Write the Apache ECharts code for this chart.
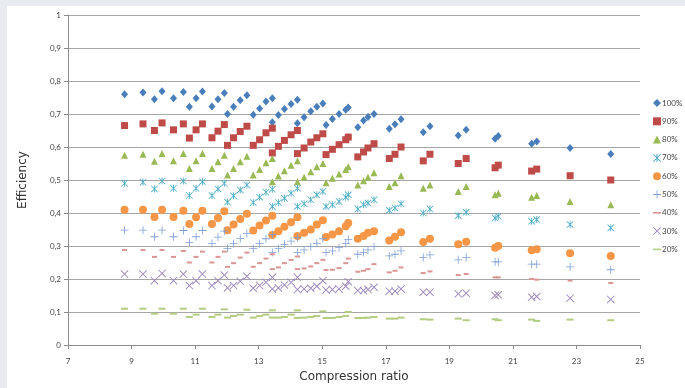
<!DOCTYPE html>
<html>
<head>
<meta charset="utf-8">
<script src="https://cdn.jsdelivr.net/npm/echarts@6/dist/echarts.min.js"></script>
<style>
  html, body { margin: 0; padding: 0; background: #e8ecf0; }
  #chart { position: absolute; left: 7px; top: 6px; width: 678px; height: 382px; background: #fff; }
</style>
</head>
<body>
<div id="chart"></div>
<script>
// compression ratio, shared by all load levels
var ratio = [8.78, 9.36, 9.72, 9.96, 10.32, 10.63, 10.82, 11.03, 11.23, 11.53, 11.72, 11.92,
  12.02, 12.21, 12.42, 12.63, 12.83, 13.03, 13.23, 13.43, 13.43, 13.62, 13.81, 14.02, 14.22,
  14.22, 14.43, 14.64, 14.83, 15.02, 15.12, 15.32, 15.53, 15.74, 15.82, 16.12, 16.30, 16.44, 16.63,
  17.11, 17.29, 17.48, 18.18, 18.39, 19.28, 19.53, 20.44, 20.54, 21.59, 21.75, 22.80, 24.08];

var eff100 = [.760, .765, .745, .769, .748, .767, .722, .748, .768, .723, .745, .764,
  .700, .722, .742, .757, .698, .717, .738, .748, .675, .697, .715, .730, .743,
  .672, .690, .708, .722, .732, .667, .685, .700, .713, .720, .660, .680, .691, .700,
  .655, .669, .684, .645, .663, .635, .652, .625, .633, .610, .617, .597, .579];
var eff90 = [.665, .670, .650, .673, .652, .670, .627, .652, .670, .628, .648, .668,
  .605, .628, .647, .663, .605, .622, .643, .657, .582, .602, .620, .637, .650,
  .580, .597, .615, .628, .640, .577, .593, .607, .622, .630, .570, .585, .597, .610,
  .565, .578, .600, .558, .578, .550, .565, .537, .545, .527, .533, .513, .500];
var eff80 = [.575, .578, .557, .580, .558, .580, .535, .558, .580, .535, .555, .575,
  .515, .535, .555, .572, .515, .532, .552, .565, .495, .512, .528, .545, .558,
  .495, .508, .525, .540, .550, .492, .505, .518, .532, .540, .485, .498, .508, .522,
  .480, .492, .513, .475, .485, .465, .480, .455, .460, .448, .453, .435, .425];
var eff70 = [.490, .493, .473, .497, .475, .497, .453, .475, .495, .453, .473, .490,
  .433, .452, .470, .485, .432, .448, .463, .472, .420, .432, .445, .460, .475,
  .420, .428, .440, .455, .465, .420, .425, .435, .448, .455, .412, .425, .430, .440,
  .408, .415, .428, .400, .412, .392, .402, .385, .390, .375, .380, .365, .355];
var eff60 = [.410, .410, .388, .410, .388, .407, .367, .387, .407, .367, .385, .405,
  .348, .365, .382, .398, .347, .362, .377, .392, .333, .345, .358, .372, .387,
  .330, .340, .350, .365, .378, .327, .335, .345, .360, .370, .322, .330, .340, .345,
  .317, .328, .342, .312, .322, .305, .313, .295, .300, .287, .290, .278, .270];
var eff50 = [.348, .348, .328, .348, .328, .347, .310, .328, .347, .308, .327, .345,
  .293, .307, .323, .338, .292, .307, .322, .335, .280, .292, .305, .315, .325,
  .280, .288, .298, .308, .322, .280, .285, .295, .308, .320, .275, .280, .288, .298,
  .270, .275, .285, .265, .273, .258, .265, .252, .252, .245, .245, .237, .228];
var eff40 = [.288, .288, .267, .288, .267, .285, .250, .267, .283, .250, .267, .283,
  .237, .248, .265, .280, .237, .248, .262, .275, .230, .235, .248, .258, .268,
  .230, .232, .238, .248, .258, .227, .228, .233, .248, .262, .222, .225, .230, .245,
  .220, .225, .235, .218, .223, .212, .215, .205, .205, .200, .198, .195, .188];
var eff30 = [.215, .215, .195, .217, .195, .215, .180, .195, .215, .180, .195, .212,
  .173, .180, .193, .208, .172, .180, .190, .205, .170, .173, .182, .190, .205,
  .168, .170, .172, .178, .195, .167, .168, .170, .178, .192, .165, .165, .168, .175,
  .163, .163, .170, .160, .160, .155, .157, .150, .152, .145, .147, .142, .138];
var eff20 = [.110, .110, .095, .110, .095, .110, .085, .092, .110, .085, .092, .108,
  .083, .088, .092, .107, .083, .088, .092, .105, .083, .083, .085, .092, .105,
  .082, .083, .085, .088, .102, .082, .082, .085, .088, .100, .082, .082, .083, .085,
  .080, .080, .083, .078, .077, .080, .075, .078, .075, .077, .073, .077, .075];

var loads = ['100%', '90%', '80%', '70%', '60%', '50%', '40%', '30%', '20%'];
var values = [eff100, eff90, eff80, eff70, eff60, eff50, eff40, eff30, eff20];

var STAR = 'path://M4.4,0H5.6V10H4.4Z M0,0.8L0.8,0L10,9.2L9.2,10Z M9.2,0L10,0.8L0.8,10L0,9.2Z';
var CROSS = 'path://M0,0.8L0.8,0L10,9.2L9.2,10Z M9.2,0L10,0.8L0.8,10L0,9.2Z';
var PLUS = 'path://M4.5,0H5.5V4.5H10V5.5H5.5V10H4.5V5.5H0V4.5H4.5Z';
var DASH = 'path://M0,0L0,0M0,4H10V6H0Z M10,10L10,10';

var looks = [
  { color: '#4a7ebb', symbol: 'diamond', size: [7, 8], icon: 'diamond' },
  { color: '#be4b48', symbol: 'rect', size: 7, icon: 'rect' },
  { color: '#98b954', symbol: 'triangle', size: 7, icon: 'triangle' },
  { color: '#4bacc6', symbol: STAR, size: 7, icon: STAR },
  { color: '#f79646', symbol: 'circle', size: 8, icon: 'circle' },
  { color: '#7f9fd4', symbol: PLUS, size: 8, icon: PLUS },
  { color: '#d99694', symbol: 'rect', size: [5, 2], icon: DASH },
  { color: '#9b87bb', symbol: CROSS, size: 8, icon: CROSS },
  { color: '#b3cc82', symbol: 'rect', size: [7, 2], icon: DASH }
];

var series = loads.map(function (name, i) {
  return {
    name: name,
    type: 'scatter',
    symbol: looks[i].symbol,
    symbolSize: looks[i].size,
    itemStyle: { color: looks[i].color, opacity: 1 },
    data: ratio.map(function (r, j) { return [r, values[i][j]]; })
  };
});

var chart = echarts.init(document.getElementById('chart'));
chart.setOption({
  animation: false,
  grid: { left: 61, right: 45, top: 9, bottom: 30 },
  legend: {
    orient: 'vertical',
    left: 641,
    top: 88,
    itemWidth: 8,
    itemHeight: 8,
    itemGap: 10.3,
    textStyle: { fontSize: 8, color: '#444', fontFamily: 'Lato', padding: [0, 0, 0, -4] },
    data: loads.map(function (n, i) { return { name: n, icon: looks[i].icon }; })
  },
  xAxis: {
    type: 'value',
    min: 7,
    max: 25,
    interval: 2,
    name: 'Compression ratio',
    nameLocation: 'middle',
    nameGap: 26,
    nameTextStyle: { fontFamily: 'DejaVu Sans', fontSize: 12, color: '#333' },
    axisLine: { show: true, lineStyle: { color: '#8c8c8c' } },
    axisTick: { show: true, length: 4, lineStyle: { color: '#8c8c8c' } },
    axisLabel: { fontFamily: 'Lato', fontSize: 8, color: '#444', margin: 12 },
    splitLine: { show: false }
  },
  yAxis: {
    type: 'value',
    min: 0,
    max: 1,
    interval: 0.1,
    name: 'Efficiency',
    nameLocation: 'middle',
    nameGap: 39,
    nameRotate: 90,
    nameTextStyle: { fontFamily: 'DejaVu Sans', fontSize: 12, color: '#333' },
    axisLine: { show: true, lineStyle: { color: '#8c8c8c' } },
    axisTick: { show: true, length: 4, lineStyle: { color: '#8c8c8c' } },
    axisLabel: {
      fontFamily: 'Lato', fontSize: 8, color: '#444', margin: 7,
      formatter: function (v) { return (v === 0 || v === 1) ? String(v) : v.toFixed(1).replace('.', ','); }
    },
    splitLine: { show: true, lineStyle: { color: '#a6a6a6', width: 1 } }
  },
  series: series
});
</script>
</body>
</html>
